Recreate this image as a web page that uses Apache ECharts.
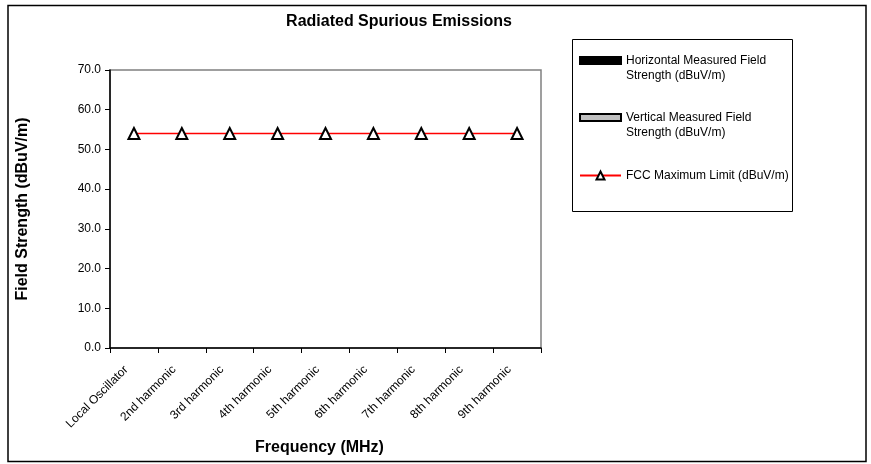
<!DOCTYPE html>
<html>
<head>
<meta charset="utf-8">
<script src="https://cdn.jsdelivr.net/npm/echarts@6/dist/echarts.min.js"></script>
<style>
html,body{margin:0;padding:0;background:#fff;}
#chart{width:871px;height:464px;}
</style>
</head>
<body>
<div id="chart"></div>
<script>
const categories = ['Local Oscillator','2nd harmonic','3rd harmonic','4th harmonic','5th harmonic','6th harmonic','7th harmonic','8th harmonic','9th harmonic'];
const horizontalMeasured = [null,null,null,null,null,null,null,null,null];
const verticalMeasured = [null,null,null,null,null,null,null,null,null];
const fccLimit = [54.0,54.0,54.0,54.0,54.0,54.0,54.0,54.0,54.0];
const yTicks = {min:0, max:70, interval:10};

const FONT = 'Liberation Sans, Arial, sans-serif';
const nameH = 'Horizontal Measured Field Strength (dBuV/m)';
const nameV = 'Vertical Measured Field Strength (dBuV/m)';
const nameF = 'FCC Maximum Limit (dBuV/m)';

function twoLine(n){ return '\n' + n.replace(' Strength', '\nStrength'); }

const legendBase = {
  orient:'vertical', left:579, padding:0, itemWidth:41, itemHeight:7, itemGap:0,
  selectedMode:false
};
const chart = echarts.init(document.getElementById('chart'));
chart.setOption({
  animation:false,
  backgroundColor:'#fff',
  title:{
    text:'Radiated Spurious Emissions', left:399, top:14, padding:0, textAlign:'center',
    textStyle:{fontFamily:FONT, fontSize:16, fontWeight:'bold', color:'#000'}
  },
  graphic:[
    {type:'rect', shape:{x:8, y:5.5, width:858, height:456}, style:{fill:null, stroke:'#000', lineWidth:1.5}, silent:true},
    {type:'rect', shape:{x:572.5, y:39.5, width:220, height:172}, style:{fill:null, stroke:'#000', lineWidth:1}, silent:true}
  ],
  legend:[
    Object.assign({}, legendBase, {
      top:38, data:[{name:nameH, icon:'rect'}], formatter:twoLine,
      textStyle:{fontFamily:FONT, fontSize:12, color:'#000', lineHeight:15}
    }),
    Object.assign({}, legendBase, {
      top:95, data:[{name:nameV, icon:'rect'}], formatter:twoLine,
      textStyle:{fontFamily:FONT, fontSize:12, color:'#000', lineHeight:15}
    }),
    Object.assign({}, legendBase, {
      top:168, itemHeight:10, data:[{name:nameF}],
      textStyle:{fontFamily:FONT, fontSize:12, color:'#000', lineHeight:15}
    })
  ],
  grid:{left:110, right:330, top:70, bottom:116, show:true, borderColor:'#808080', borderWidth:1.5, backgroundColor:'transparent'},
  xAxis:{
    type:'category', data:categories, boundaryGap:true,
    name:'Frequency (MHz)', nameLocation:'middle', nameGap:92,
    nameTextStyle:{fontFamily:FONT, fontSize:16, fontWeight:'bold', color:'#000', padding:[0,12,0,0]},
    axisLine:{lineStyle:{color:'#000', width:1.5}},
    axisTick:{show:true, inside:false, length:5, alignWithLabel:false, lineStyle:{color:'#000'}},
    axisLabel:{rotate:45, margin:12, padding:[0,11,0,0], fontFamily:FONT, fontSize:12, color:'#000', interval:0}
  },
  yAxis:{
    type:'value', min:yTicks.min, max:yTicks.max, interval:yTicks.interval,
    name:'Field Strength (dBuV/m)', nameLocation:'middle', nameGap:79, nameRotate:90,
    nameTextStyle:{fontFamily:FONT, fontSize:16, fontWeight:'bold', color:'#000'},
    axisLine:{show:true, lineStyle:{color:'#000', width:1.5}},
    axisTick:{show:true, inside:false, length:5, lineStyle:{color:'#000'}},
    splitLine:{show:false},
    axisLabel:{margin:9, fontFamily:FONT, fontSize:12, color:'#000', formatter:function(v){return v.toFixed(1);}}
  },
  series:[
    {name:nameH, type:'bar', data:horizontalMeasured, itemStyle:{color:'#000', borderColor:'#000', borderWidth:1}},
    {name:nameV, type:'bar', data:verticalMeasured, itemStyle:{color:'#c0c0c0', borderColor:'#000', borderWidth:2}},
    {name:nameF, type:'line', data:fccLimit, symbol:'triangle', symbolSize:[11,11],
      lineStyle:{color:'#ff0000', width:1.5}, itemStyle:{color:'#fff', borderColor:'#000', borderWidth:2}, z:5}
  ]
});
</script>
</body>
</html>
